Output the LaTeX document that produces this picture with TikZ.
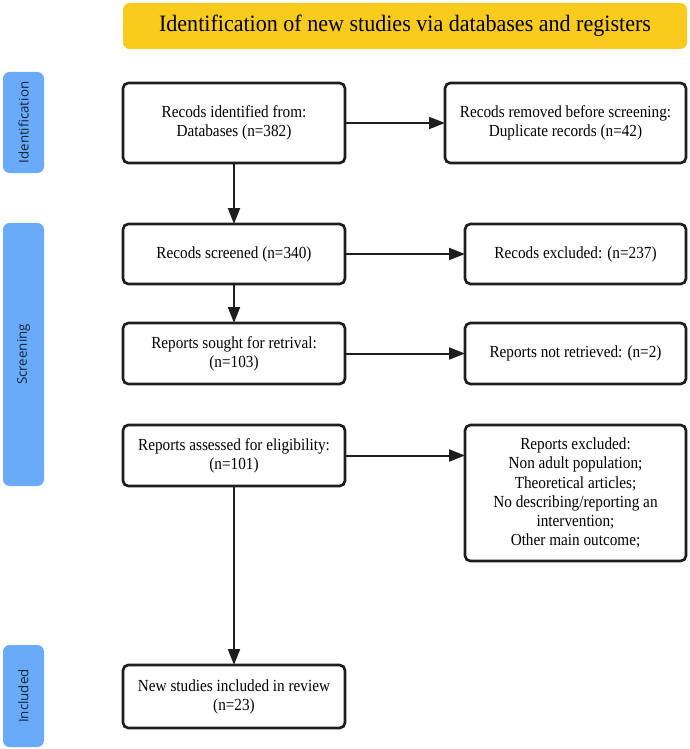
\documentclass[tikz,border=0pt]{standalone}
\usepackage{fontspec}
\setmainfont{Liberation Serif}
\newfontfamily\boxfont{Liberation Serif}[FakeStretch=0.9]
\newfontfamily\banfont{Liberation Serif}[FakeStretch=0.94]
\newfontfamily\tabfont{Open Sans}
\usetikzlibrary{arrows.meta}
\definecolor{banneryellow}{HTML}{F9CB1C}
\definecolor{tabblue}{HTML}{6AABF9}
\definecolor{tabtext}{HTML}{14233C}
\definecolor{linecol}{HTML}{1E1E1E}
\def\p{0.75pt}
\tikzset{
  box/.style={draw=linecol, line width=2pt, rounded corners=4pt, fill=white,
    align=center, inner sep=2pt, outer sep=0pt,
    font=\boxfont\fontsize{12.7}{14.3}\selectfont},
  banner/.style={fill=banneryellow, rounded corners=5pt, inner sep=0pt,
    font=\banfont\fontsize{17.6}{19}\selectfont},
  tab/.style={fill=tabblue, rounded corners=5pt, rotate=90, inner sep=0pt,
    text=tabtext, font=\tabfont\fontsize{10}{12}\selectfont},
  arr/.style={draw=linecol, line width=1.5pt, -{Triangle[length=12pt, width=9pt]}}
}
\begin{document}
\begin{tikzpicture}[x=0.75pt, y=-0.75pt]
\useasboundingbox (0,0) rectangle (689,749);
% banner
\node[banner, minimum width=564*\p, minimum height=46*\p] (ban) at (405,26)
  {Identification of new studies via databases and registers};
% tabs
\node[tab, minimum width=101*\p, minimum height=41*\p] (t1) at (23.5,122.5) {Identification};
\node[tab, minimum width=263*\p, minimum height=41*\p] (t2) at (23.5,354.5) {Screening};
\node[tab, minimum width=102*\p, minimum height=41*\p] (t3) at (23.5,696) {Included};
% boxes
\node[box, minimum width=222*\p, minimum height=80*\p] (b1) at (234,123)
  {Recods identified from:\\Databases (n=382)};
\node[box, minimum width=241*\p, minimum height=80*\p] (b2) at (565.5,123)
  {Recods removed before screening:\\Duplicate records (n=42)};
\node[box, minimum width=222*\p, minimum height=60*\p] (b3) at (234,254)
  {Recods screened (n=340)};
\node[box, minimum width=221*\p, minimum height=60*\p] (b4) at (575.5,254)
  {Recods excluded: (n=237)};
\node[box, minimum width=222*\p, minimum height=61*\p] (b5) at (234,353.5)
  {Reports sought for retrival:\\(n=103)};
\node[box, minimum width=221*\p, minimum height=61*\p] (b6) at (575.5,353.5)
  {Reports not retrieved: (n=2)};
\node[box, minimum width=222*\p, minimum height=61*\p] (b7) at (234,455.5)
  {Reports assessed for eligibility:\\(n=101)};
\node[box, minimum width=221*\p, minimum height=136*\p] (b8) at (575.5,493)
  {Reports excluded:\\Non adult population;\\Theoretical articles;\\No describing/reporting an\\intervention;\\Other main outcome;};
\node[box, minimum width=222*\p, minimum height=63*\p] (b9) at (234,696.5)
  {New studies included in review\\(n=23)};
% connectors
\draw[arr] (b1) -- (b2);
\draw[arr] (b1) -- (b3);
\draw[arr] (b3) -- (b4);
\draw[arr] (b3) -- (b5);
\draw[arr] (b5) -- (b6);
\draw[arr] (b7.east) -- (b7.east -| b8.west);
\draw[arr] (b7) -- (b9);
\end{tikzpicture}
\end{document}
